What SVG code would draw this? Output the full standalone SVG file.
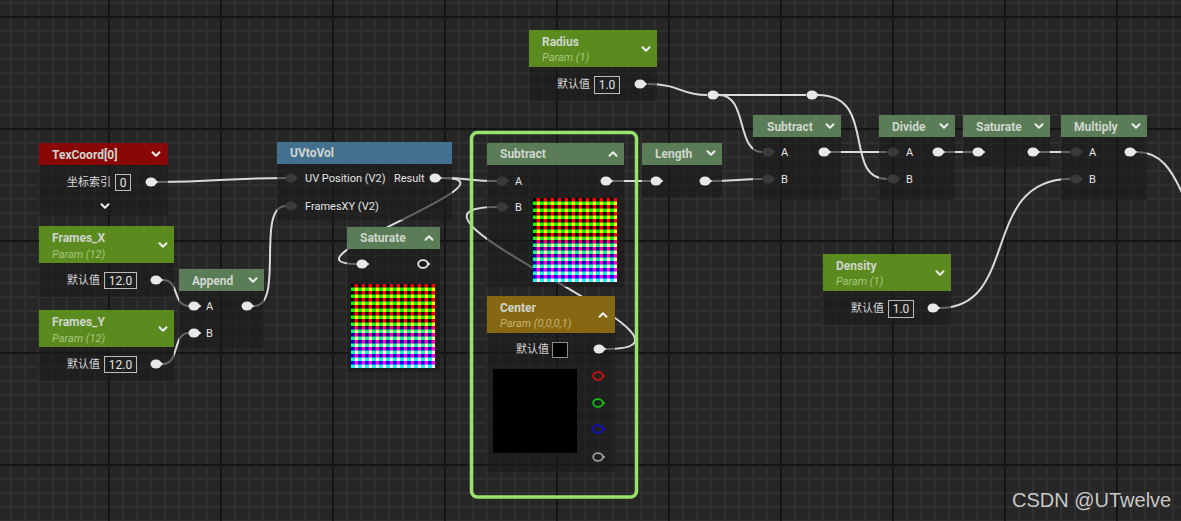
<svg xmlns="http://www.w3.org/2000/svg" xmlns:xlink="http://www.w3.org/1999/xlink" width="1181" height="521" viewBox="0 0 1181 521">
<style>
.t{font-family:Roboto,"Noto Sans CJK SC",sans-serif}
.title{font-size:12px;font-weight:bold;fill:#d0d6cd}
.sub{font-size:11px;font-style:italic;fill:#a8c67c}
.lbl{font-size:11px;fill:#e4e4e4}
.cjk{font-family:"Noto Sans CJK SC","Noto Sans",sans-serif;font-size:11px;fill:#d8d8d8}
.val{font-size:12px;fill:#e2e2e2;text-anchor:middle}
.box{fill:none;stroke:#bcbcbc;stroke-width:1}
.body{fill:#1b1b1b;fill-opacity:0.62}
.hm{fill:#5a7c56}
.hp{fill:#5b8a1f}
.wire{fill:none;stroke:#dadada;stroke-width:2}
.chev{fill:none;stroke:#ececec;stroke-width:2;stroke-linecap:round;stroke-linejoin:round}
</style>
<defs>
<pattern id="fine" width="14" height="14" patternUnits="userSpaceOnUse" x="10" y="2">
<rect width="14" height="14" fill="#262626"/>
<rect width="2" height="14" fill="#303030"/>
<rect width="14" height="2" fill="#303030"/>
</pattern>
<pattern id="major" width="112" height="112" patternUnits="userSpaceOnUse" x="108" y="16">
<rect width="2" height="112" fill="#141414"/>
<rect width="112" height="2" fill="#141414"/>
</pattern>
<pattern id="uvt" width="7" height="7" patternUnits="userSpaceOnUse" x="0" y="0">
<rect width="7" height="7" fill="#000"/>
<rect x="3.5" width="3.5" height="3.5" fill="#ff0000"/>
<rect y="3.5" width="3.5" height="3.5" fill="#00ff00"/>
<rect x="3.5" y="3.5" width="3.5" height="3.5" fill="#ffff00"/>
</pattern>
<linearGradient id="blue" x1="0" y1="0" x2="0" y2="1">
<stop offset="0" stop-color="#0000ff" stop-opacity="0"/>
<stop offset="0.45" stop-color="#0000ff" stop-opacity="0"/>
<stop offset="0.55" stop-color="#0000ff" stop-opacity="0.55"/>
<stop offset="1" stop-color="#0000ff" stop-opacity="1"/>
</linearGradient>
<g id="tex" style="isolation:isolate">
<rect width="84" height="84" fill="url(#uvt)"/>
<rect width="84" height="84" fill="url(#blue)" style="mix-blend-mode:screen"/>
</g>
<g id="pon"><ellipse rx="5.5" ry="4.6" fill="#e8e8e8"/><path d="M4,-2.6 L7.5,0 L4,2.6Z" fill="#e8e8e8"/></g>
<g id="poff"><ellipse rx="5.5" ry="4.6" fill="#3a3a3a"/><path d="M4,-2.6 L7.5,0 L4,2.6Z" fill="#3a3a3a"/></g>
<path id="cd" d="M-3.5,-1.8 L0,1.8 L3.5,-1.8" class="chev"/>
<path id="cu" d="M-3.5,1.8 L0,-1.8 L3.5,1.8" class="chev"/>
</defs>

<rect width="1181" height="521" fill="url(#fine)"/>
<rect width="1181" height="521" fill="url(#major)"/>

<g id="connectors">
<path class="wire" d="M158,182 C220,182 220,178 286,178"/>
<path class="wire" d="M163,280 C180,280 172,306 189,306"/>
<path class="wire" d="M163,364 C180,364 172,333 189,333"/>
<path class="wire" d="M254,306 C285,306 255,206 286,206"/>
<path class="wire" d="M442,178 C470,178 468,181 497,181"/>
<path class="wire" d="M442,178 C530,178 270,264 357,264"/>
<path class="wire" d="M606,349 C740,349 360,207 497,207"/>
<path class="wire" d="M613,181 L650,181"/>
<path class="wire" d="M712,181 C735,181 740,179 762,179"/>
<path class="wire" d="M648,84 C680,84 680,95 707,95"/>
<path class="wire" d="M719,95 L806,95"/>
<path class="wire" d="M719,95 C748,95 736,152 762,152"/>
<path class="wire" d="M818,95 C878,95 842,179 887,179"/>
<path class="wire" d="M831,152 L887,152"/>
<path class="wire" d="M945,152 L972,152"/>
<path class="wire" d="M1040,152 L1070,152"/>
<path class="wire" d="M940,308 C1020,308 980,179 1070,179"/>
<path class="wire" d="M1137,152 C1160,152 1172,168 1186,202"/>
</g>

<g id="knot1"><use href="#pon" x="713" y="95"/></g>
<g id="knot2"><use href="#pon" x="812" y="95"/></g>

<g id="texcoord">
<rect x="39" y="143" width="129" height="22" fill="#8a0707"/>
<rect class="body" x="39" y="165" width="129" height="51"/>
<text class="t title" x="52" y="159">TexCoord[0]</text>
<use href="#cd" x="156" y="154"/>
<text class="cjk" x="67" y="186">坐标索引</text>
<rect class="box" x="115.5" y="174.5" width="15" height="16"/>
<text class="t val" x="123" y="187">0</text>
<use href="#pon" x="151" y="182"/>
<use href="#cd" x="105" y="206"/>
</g>

<g id="frames_x">
<rect class="hp" x="39" y="226" width="135" height="37"/>
<rect class="body" x="39" y="263" width="135" height="34"/>
<text class="t title" x="52" y="242">Frames_X</text>
<text class="t sub" x="52" y="258">Param (12)</text>
<use href="#cd" x="163" y="245"/>
<text class="cjk" x="67" y="284">默认值</text>
<rect class="box" x="104.5" y="272.5" width="32" height="16"/>
<text class="t val" x="120.5" y="285">12.0</text>
<use href="#pon" x="156" y="280"/>
</g>

<g id="frames_y">
<rect class="hp" x="39" y="310" width="135" height="37"/>
<rect class="body" x="39" y="347" width="135" height="34"/>
<text class="t title" x="52" y="326">Frames_Y</text>
<text class="t sub" x="52" y="342">Param (12)</text>
<use href="#cd" x="163" y="329"/>
<text class="cjk" x="67" y="368">默认值</text>
<rect class="box" x="104.5" y="356.5" width="32" height="16"/>
<text class="t val" x="120.5" y="369">12.0</text>
<use href="#pon" x="156" y="364"/>
</g>

<g id="append">
<rect class="hm" x="179" y="269" width="85" height="22"/>
<rect class="body" x="179" y="291" width="85" height="57"/>
<text class="t title" x="192" y="285">Append</text>
<use href="#cd" x="253" y="280"/>
<use href="#pon" x="194" y="306"/>
<text class="t lbl" x="206" y="310">A</text>
<use href="#pon" x="247" y="306"/>
<use href="#pon" x="194" y="333"/>
<text class="t lbl" x="206" y="337">B</text>
</g>

<g id="uvtovol">
<rect x="277" y="142" width="175" height="22" fill="#44708f"/>
<rect class="body" x="277" y="164" width="175" height="56"/>
<text class="t title" x="290" y="157">UVtoVol</text>
<use href="#poff" x="291" y="178"/>
<text class="t lbl" x="305" y="182">UV Position (V2)</text>
<text class="t lbl" x="394" y="182">Result</text>
<use href="#pon" x="435" y="178"/>
<use href="#poff" x="291" y="206"/>
<text class="t lbl" x="305" y="210">FramesXY (V2)</text>
</g>

<g id="saturate1">
<rect class="hm" x="347" y="227" width="93" height="22"/>
<rect class="body" x="347" y="249" width="93" height="123"/>
<text class="t title" x="360" y="242">Saturate</text>
<use href="#cu" x="429" y="238"/>
<use href="#pon" x="362" y="264"/>
<ellipse cx="423" cy="264" rx="4.8" ry="3.8" fill="#1b1b1b" stroke="#e8e8e8" stroke-width="1.8"/>
<path d="M427,261.4 L430.5,264 L427,266.6Z" fill="#e8e8e8"/>
<use href="#tex" transform="translate(351,284)"/>
</g>

<g id="subtract1">
<rect class="hm" x="487" y="143" width="137" height="22"/>
<rect class="body" x="487" y="165" width="137" height="122"/>
<text class="t title" x="500" y="158">Subtract</text>
<use href="#cu" x="613" y="154"/>
<use href="#poff" x="502" y="181"/>
<text class="t lbl" x="515" y="185">A</text>
<use href="#pon" x="606" y="181"/>
<use href="#poff" x="502" y="207"/>
<text class="t lbl" x="515" y="211">B</text>
<use href="#tex" transform="translate(533,198)"/>
</g>

<g id="center">
<rect x="487" y="296" width="128" height="37" fill="#876812"/>
<rect class="body" x="487" y="333" width="128" height="139"/>
<text class="t title" x="500" y="312">Center</text>
<text class="t sub" x="500" y="327" style="fill:#c9b36f">Param (0,0,0,1)</text>
<use href="#cu" x="603" y="315"/>
<text class="cjk" x="516" y="353">默认值</text>
<rect x="552.5" y="342.5" width="15" height="15" fill="#000" stroke="#8c8c8c"/>
<use href="#pon" x="599" y="349"/>
<rect x="493" y="369" width="84" height="84" fill="#000"/>
<g fill="none" stroke-width="1.8">
<ellipse cx="598" cy="376" rx="4.8" ry="3.8" stroke="#c81212"/>
<ellipse cx="598" cy="403" rx="4.8" ry="3.8" stroke="#12c012"/>
<ellipse cx="598" cy="429" rx="4.8" ry="3.8" stroke="#1212c8"/>
<ellipse cx="598" cy="457" rx="4.8" ry="3.8" stroke="#9a9a9a"/>
</g>
<path d="M602,373.4 L605.5,376 L602,378.6Z" fill="#c81212"/>
<path d="M602,400.4 L605.5,403 L602,405.6Z" fill="#12c012"/>
<path d="M602,426.4 L605.5,429 L602,431.6Z" fill="#1212c8"/>
<path d="M602,454.4 L605.5,457 L602,459.6Z" fill="#9a9a9a"/>
</g>

<rect id="selection" x="471.5" y="132.5" width="165" height="364.5" rx="6" fill="none" stroke="#9ae36a" stroke-width="3.5"/>

<g id="radius">
<rect class="hp" x="529" y="30" width="128" height="37"/>
<rect class="body" x="529" y="67" width="128" height="34"/>
<text class="t title" x="542" y="46">Radius</text>
<text class="t sub" x="542" y="61">Param (1)</text>
<use href="#cd" x="646" y="49"/>
<text class="cjk" x="557" y="88">默认值</text>
<rect class="box" x="594.5" y="76.5" width="25" height="17"/>
<text class="t val" x="607" y="89">1.0</text>
<use href="#pon" x="640" y="84"/>
</g>

<g id="length">
<rect class="hm" x="642" y="143" width="80" height="22"/>
<rect class="body" x="642" y="165" width="80" height="32"/>
<text class="t title" x="655" y="158">Length</text>
<use href="#cd" x="711" y="153"/>
<use href="#pon" x="656" y="181"/>
<use href="#pon" x="705" y="181"/>
</g>

<g id="subtract2">
<rect class="hm" x="753" y="115" width="88" height="22"/>
<rect class="body" x="753" y="137" width="88" height="63"/>
<text class="t title" x="767" y="131">Subtract</text>
<use href="#cd" x="830" y="126"/>
<use href="#poff" x="768" y="152"/>
<text class="t lbl" x="781" y="156">A</text>
<use href="#pon" x="824" y="152"/>
<use href="#poff" x="768" y="179"/>
<text class="t lbl" x="781" y="183">B</text>
</g>

<g id="divide">
<rect class="hm" x="879" y="115" width="76" height="22"/>
<rect class="body" x="879" y="137" width="76" height="63"/>
<text class="t title" x="892" y="131">Divide</text>
<use href="#cd" x="944" y="126"/>
<use href="#poff" x="893" y="152"/>
<text class="t lbl" x="906" y="156">A</text>
<use href="#pon" x="938" y="152"/>
<use href="#poff" x="893" y="179"/>
<text class="t lbl" x="906" y="183">B</text>
</g>

<g id="saturate2">
<rect class="hm" x="963" y="115" width="87" height="22"/>
<rect class="body" x="963" y="137" width="87" height="30"/>
<text class="t title" x="976" y="131">Saturate</text>
<use href="#cd" x="1039" y="126"/>
<use href="#pon" x="978" y="152"/>
<use href="#pon" x="1033" y="152"/>
</g>

<g id="multiply">
<rect class="hm" x="1061" y="115" width="86" height="22"/>
<rect class="body" x="1061" y="137" width="86" height="63"/>
<text class="t title" x="1074" y="131">Multiply</text>
<use href="#cd" x="1136" y="126"/>
<use href="#poff" x="1076" y="152"/>
<text class="t lbl" x="1089" y="156">A</text>
<use href="#pon" x="1130" y="152"/>
<use href="#poff" x="1076" y="179"/>
<text class="t lbl" x="1089" y="183">B</text>
</g>

<g id="density">
<rect class="hp" x="823" y="254" width="128" height="37"/>
<rect class="body" x="823" y="291" width="128" height="34"/>
<text class="t title" x="836" y="270">Density</text>
<text class="t sub" x="836" y="285">Param (1)</text>
<use href="#cd" x="940" y="273"/>
<text class="cjk" x="851" y="312">默认值</text>
<rect class="box" x="888.5" y="300.5" width="25" height="17"/>
<text class="t val" x="901" y="313">1.0</text>
<use href="#pon" x="933" y="308"/>
</g>

<text id="watermark" x="1012" y="507" font-family="'Liberation Sans',Arial,sans-serif" font-size="20" fill="#c8c8c8">CSDN @UTwelve</text>
</svg>
